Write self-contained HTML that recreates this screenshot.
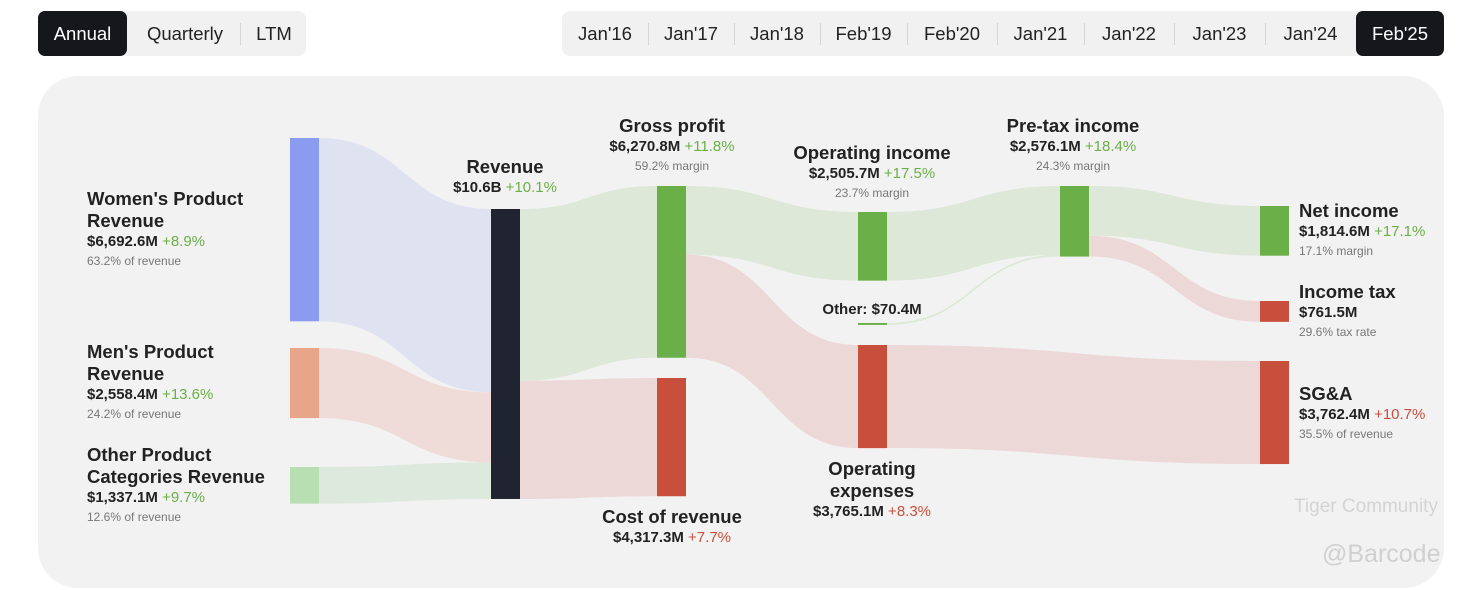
<!DOCTYPE html>
<html><head><meta charset="utf-8">
<style>
body{margin:0;width:1472px;height:590px;background:#fff;font-family:"Liberation Sans",sans-serif;position:relative;overflow:hidden}
.grp{position:absolute;top:11px;height:45px;background:#f1f1f1;border-radius:8px}
.tab{position:absolute;top:0;height:45px;line-height:45px;font-size:18.5px;color:#222;text-align:center}
.tab.on{background:#16171b;color:#fff;border-radius:7px}
.sep{position:absolute;top:12px;width:1px;height:22px;background:#d6d6d6}
#card{position:absolute;left:38px;top:76px;width:1406px;height:512px;background:#f2f2f2;border-radius:40px}
.lbl{position:absolute;white-space:nowrap;color:#222}
.t{font-size:18.5px;font-weight:bold;line-height:22px}
.v{font-size:15px;font-weight:bold;line-height:20px}
.s{font-size:12px;color:#777;line-height:18px}
.g{color:#6aaf47;font-weight:normal}
.r{color:#c94f3d;font-weight:normal}
.c{text-align:center;transform:translateX(-50%)}
</style></head><body>
<div class="grp" style="left:38px;width:268px">
 <div class="tab on" style="left:0;width:89px">Annual</div>
 <div class="tab" style="left:92px;width:110px">Quarterly</div>
 <div class="sep" style="left:202px"></div>
 <div class="tab" style="left:205px;width:62px">LTM</div>
</div>
<div class="grp" id="years" style="left:562px;width:882px"></div>
<div id="card"></div>
<svg id="sk" width="1472" height="590" style="position:absolute;left:0;top:0"></svg>
<div class="lbl" style="left:1294px;top:496px;font-size:19px;color:#d4d4d4">Tiger Community</div>
<div class="lbl" style="left:1322px;top:540px;font-size:25px;color:#d0d0d0">@Barcode</div>
<script>
const years=["Jan'16","Jan'17","Jan'18","Feb'19","Feb'20","Jan'21","Jan'22","Jan'23","Jan'24","Feb'25"];
const yearEdges=[562,648,734,820,907,997,1084,1174,1265,1356,1444];
const yg=document.getElementById('years');
years.forEach((y,i)=>{const d=document.createElement('div');


d.className='tab'+(i==9?' on':'');d.style.left=(yearEdges[i]-562)+'px';d.style.width=(yearEdges[i+1]-yearEdges[i])+'px';d.textContent=y;yg.appendChild(d);
if(i>0&&i<9){const s=document.createElement('div');s.className='sep';s.style.left=(yearEdges[i]-562)+'px';yg.appendChild(s);}});

// data (millions)
const nodeNames=["women","men","other","revenue","gross","cor","opinc","othinc","opex","pretax","net","tax","sga"];
const nodeValues=[6692.6,2558.4,1337.1,10588.1,6270.8,4317.3,2505.7,70.4,3765.1,2576.1,1814.6,761.5,3762.4];
const linkSources=["women","men","other","revenue","revenue","gross","gross","opinc","othinc","pretax","pretax","opex"];
const linkTargets=["revenue","revenue","revenue","gross","cor","opinc","opex","pretax","pretax","net","tax","sga"];
const linkValues=[6692.6,2558.4,1337.1,6270.8,4317.3,2505.7,3765.1,2505.7,70.4,1814.6,761.5,3762.4];

const K=290/10588.1;
const layX={women:290,men:290,other:290,revenue:491,gross:657,cor:657,opinc:858,othinc:858,opex:858,pretax:1060,net:1260,tax:1260,sga:1260};
const layY={women:138,men:348,other:467,revenue:209,gross:186,cor:378,opinc:212,othinc:323,opex:345,pretax:186,net:206,tax:301,sga:361};
const nodeCol={women:"#8b9cf0",men:"#e8a58a",other:"#b7dfb2",revenue:"#1f2430",gross:"#6aaf47",cor:"#c94f3d",opinc:"#6aaf47",othinc:"#6aaf47",opex:"#c94f3d",pretax:"#6aaf47",net:"#6aaf47",tax:"#c94f3d",sga:"#c94f3d"};
const linkCol={women:"#dfe2f1",men:"#efdcd8",other:"#dde9dc",cor:"#ecd9d7",opex:"#ecd9d7",tax:"#ecd9d7",sga:"#ecd9d7"};
const W=29,svg=document.getElementById('sk'),NS="http://www.w3.org/2000/svg";
const outOff={},inOff={};
nodeNames.forEach(n=>{outOff[n]=0;inOff[n]=0;});
linkValues.forEach((v,i)=>{
 const s=linkSources[i],t=linkTargets[i],h=v*K;
 const x0=layX[s]+W,x1=layX[t],y0=layY[s]+outOff[s],y1=layY[t]+inOff[t];
 outOff[s]+=h;inOff[t]+=h;const m=(x0+x1)/2;
 const p=document.createElementNS(NS,'path');
 p.setAttribute('d',`M${x0},${y0}C${m},${y0} ${m},${y1} ${x1},${y1}L${x1},${y1+h}C${m},${y1+h} ${m},${y0+h} ${x0},${y0+h}Z`);
 let c=linkCol[s]||linkCol[t]||"#dde8d8";if(s=="revenue"&&t=="gross")c="#dde8d8";
 p.setAttribute('fill',c);
 
 
 svg.appendChild(p);});
nodeNames.forEach((n,i)=>{const r=document.createElementNS(NS,'rect');
 r.setAttribute('x',layX[n]);r.setAttribute('y',layY[n]);r.setAttribute('width',W);r.setAttribute('height',Math.max(nodeValues[i]*K,1.5));r.setAttribute('fill',nodeCol[n]);
 
 
 svg.appendChild(r);});

const labels=[
["women-label",87,188,0,'<div class="t">Women\'s Product<br>Revenue</div><div class="v">$6,692.6M <span class="g">+8.9%</span></div><div class="s">63.2% of revenue</div>'],
["men-label",87,341,0,'<div class="t">Men\'s Product<br>Revenue</div><div class="v">$2,558.4M <span class="g">+13.6%</span></div><div class="s">24.2% of revenue</div>'],
["other-label",87,444,0,'<div class="t">Other Product<br>Categories Revenue</div><div class="v">$1,337.1M <span class="g">+9.7%</span></div><div class="s">12.6% of revenue</div>'],
["revenue-label",505,156,1,'<div class="t">Revenue</div><div class="v">$10.6B <span class="g">+10.1%</span></div>'],
["gross-profit-label",672,115,1,'<div class="t">Gross profit</div><div class="v">$6,270.8M <span class="g">+11.8%</span></div><div class="s">59.2% margin</div>'],
["operating-income-label",872,142,1,'<div class="t">Operating income</div><div class="v">$2,505.7M <span class="g">+17.5%</span></div><div class="s">23.7% margin</div>'],
["other-income-label",872,300,1,'<div class="v">Other: $70.4M</div>'],
["opex-label",872,458,1,'<div class="t">Operating<br>expenses</div><div class="v">$3,765.1M <span class="r">+8.3%</span></div>'],
["pretax-label",1073,115,1,'<div class="t">Pre-tax income</div><div class="v">$2,576.1M <span class="g">+18.4%</span></div><div class="s">24.3% margin</div>'],
["cor-label",672,506,1,'<div class="t">Cost of revenue</div><div class="v">$4,317.3M <span class="r">+7.7%</span></div>'],
["net-income-label",1299,200,0,'<div class="t">Net income</div><div class="v">$1,814.6M <span class="g">+17.1%</span></div><div class="s">17.1% margin</div>'],
["income-tax-label",1299,281,0,'<div class="t">Income tax</div><div class="v">$761.5M</div><div class="s">29.6% tax rate</div>'],
["sga-label",1299,383,0,'<div class="t">SG&amp;A</div><div class="v">$3,762.4M <span class="r">+10.7%</span></div><div class="s">35.5% of revenue</div>']];
labels.forEach(l=>{const d=document.createElement('div');
 
 
 d.className='lbl'+(l[3]?' c':'');d.style.left=l[1]+'px';d.style.top=l[2]+'px';d.innerHTML=l[4];document.body.appendChild(d);});
</script>
</body></html>
